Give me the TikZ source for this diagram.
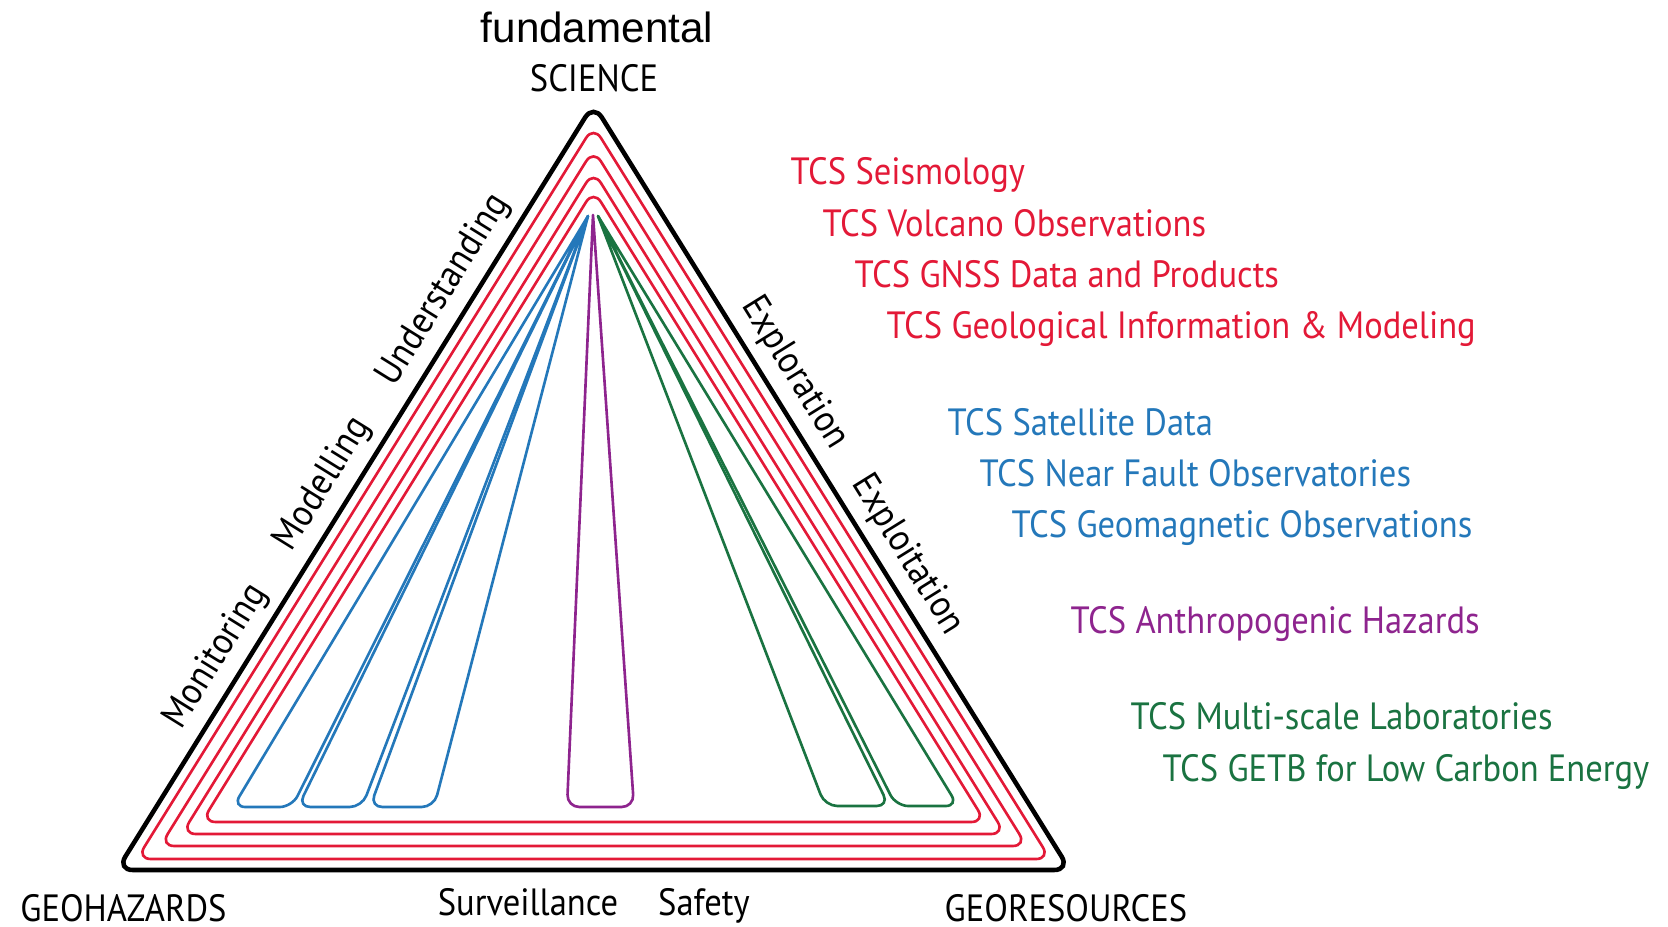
\documentclass[tikz,border=0pt]{standalone}
\usepackage{fontspec}
\setmainfont[FakeStretch=0.91]{PT Sans}
\newfontfamily\arialfont{Liberation Sans}
\usepackage{tikz}
\definecolor{tcsred}{HTML}{E31937}
\definecolor{tcsblue}{HTML}{2478BA}
\definecolor{tcspurple}{HTML}{8E248E}
\definecolor{tcsgreen}{HTML}{1A7341}
\newcommand{\tcsfont}{\fontsize{10.8}{13}\selectfont}

\begin{document}
\begin{tikzpicture}[x=0.01cm, y=-0.01cm,
	outline/.style={line width=1.3pt, rounded corners=4.5pt},
	ring/.style={tcsred, line width=0.75pt, rounded corners=4pt},
	loop/.style={line width=0.75pt, rounded corners=3.5pt, line cap=round},
	tcs/.style={anchor=base west, inner sep=0pt, font=\tcsfont},
	corner/.style={anchor=base, inner sep=0pt, font=\tcsfont},
	side/.style={sloped, above, inner sep=3pt, font=\tcsfont}]
	\useasboundingbox (0,0) rectangle (1668,927);

	% outer triangle
	\coordinate (sci) at (593.5,104);
	\coordinate (haz) at (117,870);
	\coordinate (res) at (1070,870);
	\draw[outline] (haz) -- (sci) -- (res) -- cycle;

	\draw[ring] (593.5,126) -- (1050.2,859) -- (136.8,859) -- cycle;
	\draw[ring] (593.5,149.4) -- (1026.8,846) -- (160.2,846) -- cycle;
	\draw[ring] (593.5,171) -- (1005.2,834) -- (181.8,834) -- cycle;
	\draw[ring] (593.5,190) -- (985.4,822) -- (201.6,822) -- cycle;

	% fan
	\coordinate (fb) at (588,216);
	\coordinate (fp) at (593,215);
	\coordinate (fg) at (598,216);
	\draw[loop, tcsblue] (fb) -- (233,807) -- (292,807) -- (fb);
	\draw[loop, tcsblue] (fb) -- (298,807) -- (362,807) -- (fb);
	\draw[loop, tcsblue] (fb) -- (370,807) -- (434,807) -- (fb);
	\draw[loop, tcspurple] (fp) -- (567,807) -- (634,807) -- (fp);
	\draw[loop, tcsgreen] (fg) -- (825,806) -- (889,806) -- (fg);
	\draw[loop, tcsgreen] (fg) -- (896,806) -- (958,806) -- (fg);

	% side labels
	\path (haz) -- node[side, pos=0.259] (mon) {Monitoring}
		node[side, pos=0.484] (mod) {Modelling}
		node[side, pos=0.737] (und) {Understanding} (sci);
	\path (sci) -- node[side, pos=0.371] (explor) {Exploration}
		node[side, pos=0.608] (exploit) {Exploitation} (res);

	% corners
	\node[anchor=base, inner sep=0pt, font=\arialfont\fontsize{12}{14}\selectfont] (fund) at (597,42) {fundamental};
	\node[corner] (science) at (594,91) {SCIENCE};
	\node[corner] (hazards) at (123.5,921) {GEOHAZARDS};
	\node[corner] (resources) at (1066,921) {GEORESOURCES};
	\node[corner] (surv) at (528,915) {Surveillance};
	\node[corner] (safe) at (704,915) {Safety};

	% TCS list
	\node[tcs, tcsred] (seis) at (790,184) {TCS Seismology};
	\node[tcs, tcsred] (volc) at (822,236) {TCS Volcano Observations};
	\node[tcs, tcsred] (gnss) at (854,287) {TCS GNSS Data and Products};
	\node[tcs, tcsred] (geol) at (886,338) {TCS Geological Information \& Modeling};
	\node[tcs, tcsblue] (sat) at (947,435) {TCS Satellite Data};
	\node[tcs, tcsblue] (nfo) at (979,486) {TCS Near Fault Observatories};
	\node[tcs, tcsblue] (geomag) at (1011,537) {TCS Geomagnetic Observations};
	\node[tcs, tcspurple] (anthro) at (1070,633) {TCS Anthropogenic Hazards};
	\node[tcs, tcsgreen] (lab) at (1130,729) {TCS Multi-scale Laboratories};
	\node[tcs, tcsgreen] (getb) at (1162,781) {TCS GETB for Low Carbon Energy};
\end{tikzpicture}
\end{document}
